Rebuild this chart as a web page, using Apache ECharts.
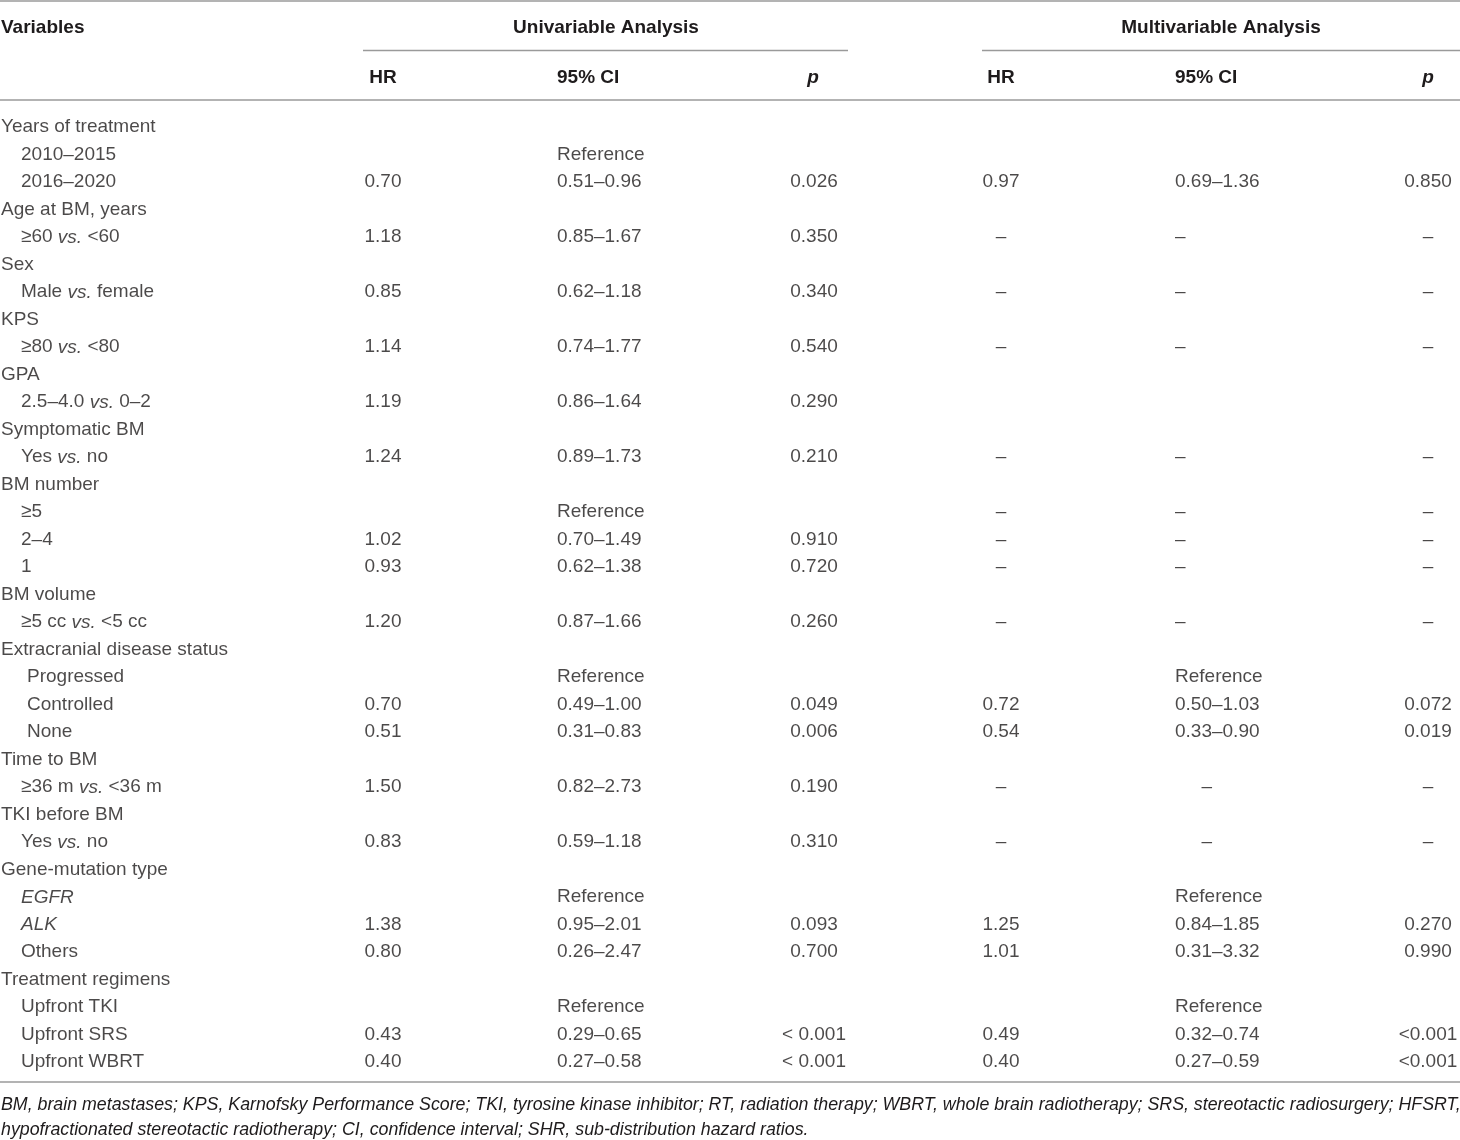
<!DOCTYPE html>
<html>
<head>
<meta charset="utf-8">
<title>Cox regression table</title>
<script src="https://cdn.jsdelivr.net/npm/echarts@6.0.0/dist/echarts.min.js"></script>
<style>
  html, body { margin: 0; padding: 0; background: #fff; }
  #container { width: 1460px; height: 1140px; }
</style>
</head>
<body>
<div id="container"></div>
<script>
// row labels, {i|...} marks italic parts
const variables = [
    'Years of treatment', '2010–2015', '2016–2020',
    'Age at BM, years', '≥60 {i|vs.} <60',
    'Sex', 'Male {i|vs.} female',
    'KPS', '≥80 {i|vs.} <80',
    'GPA', '2.5–4.0 {i|vs.} 0–2',
    'Symptomatic BM', 'Yes {i|vs.} no',
    'BM number', '≥5', '2–4', '1',
    'BM volume', '≥5 cc {i|vs.} <5 cc',
    'Extracranial disease status', 'Progressed', 'Controlled', 'None',
    'Time to BM', '≥36 m {i|vs.} <36 m',
    'TKI before BM', 'Yes {i|vs.} no',
    'Gene-mutation type', '{i|EGFR}', '{i|ALK}', 'Others',
    'Treatment regimens', 'Upfront TKI', 'Upfront SRS', 'Upfront WBRT'
];
const indent = [0,1,1, 0,1, 0,1, 0,1, 0,1, 0,1, 0,1,1,1, 0,1, 0,2,2,2, 0,1, 0,1, 0,1,1,1, 0,1,1,1];

const uniHR = ['', '', '0.70', '', '1.18', '', '0.85', '', '1.14', '', '1.19', '', '1.24',
    '', '', '1.02', '0.93', '', '1.20', '', '', '0.70', '0.51', '', '1.50', '', '0.83',
    '', '', '1.38', '0.80', '', '', '0.43', '0.40'];
const uniCI = ['', 'Reference', '0.51–0.96', '', '0.85–1.67', '', '0.62–1.18', '', '0.74–1.77', '', '0.86–1.64', '', '0.89–1.73',
    '', 'Reference', '0.70–1.49', '0.62–1.38', '', '0.87–1.66', '', 'Reference', '0.49–1.00', '0.31–0.83', '', '0.82–2.73', '', '0.59–1.18',
    '', 'Reference', '0.95–2.01', '0.26–2.47', '', 'Reference', '0.29–0.65', '0.27–0.58'];
const uniP = ['', '', '0.026', '', '0.350', '', '0.340', '', '0.540', '', '0.290', '', '0.210',
    '', '', '0.910', '0.720', '', '0.260', '', '', '0.049', '0.006', '', '0.190', '', '0.310',
    '', '', '0.093', '0.700', '', '', '< 0.001', '< 0.001'];

const multiHR = ['', '', '0.97', '', '–', '', '–', '', '–', '', '', '', '–',
    '', '–', '–', '–', '', '–', '', '', '0.72', '0.54', '', '–', '', '–',
    '', '', '1.25', '1.01', '', '', '0.49', '0.40'];
const multiCI = ['', '', '0.69–1.36', '', '–', '', '–', '', '–', '', '', '', '–',
    '', '–', '–', '–', '', '–', '', 'Reference', '0.50–1.03', '0.33–0.90', '', '     –', '', '     –',
    '', 'Reference', '0.84–1.85', '0.31–3.32', '', 'Reference', '0.32–0.74', '0.27–0.59'];
const multiP = ['', '', '0.850', '', '–', '', '–', '', '–', '', '', '', '–',
    '', '–', '–', '–', '', '–', '', '', '0.072', '0.019', '', '–', '', '–',
    '', '', '0.270', '0.990', '', '', '<0.001', '<0.001'];

const footnote = [
    'BM, brain metastases; KPS, Karnofsky Performance Score; TKI, tyrosine kinase inhibitor; RT, radiation therapy; WBRT, whole brain radiotherapy; SRS, stereotactic radiosurgery; HFSRT,',
    'hypofractionated stereotactic radiotherapy; CI, confidence interval; SHR, sub-distribution hazard ratios.'
];

// layout
const FONT = '"Liberation Sans", Arial, sans-serif';
const INK = '#1e1b1c';
const RULE = '#9a9a9a';
const indentX = [1, 21, 27];

function textColumn(values, xFor, align) {
    const data = [];
    values.forEach(function (v, i) {
        if (v === '') return;
        data.push({ name: v, value: [xFor(i), i] });
    });
    return {
        type: 'scatter',
        symbolSize: 0,
        silent: true,
        data: data,
        label: {
            show: true,
            position: align === 'left' ? 'right' : 'inside',
            distance: 0,
            align: align,
            verticalAlign: 'middle',
            color: INK,
            fontFamily: FONT,
            fontSize: 19,
            lineHeight: 22,
            formatter: function (p) { return p.name; },
            rich: {
                i: {
                    fontStyle: 'italic', color: INK, fontFamily: FONT,
                    fontSize: 19, lineHeight: 22, verticalAlign: 'middle'
                }
            }
        }
    };
}

function headerText(text, x, y, align, italic) {
    return {
        type: 'text',
        silent: true,
        style: {
            text: text, x: x, y: y,
            textAlign: align, textVerticalAlign: 'middle',
            fill: INK,
            font: (italic ? 'italic ' : '') + 'bold 19px ' + FONT
        }
    };
}

function footText(text, y) {
    return {
        type: 'text', silent: true,
        style: {
            text: text, x: 1, y: y,
            textAlign: 'left', textVerticalAlign: 'middle',
            fill: INK, font: 'italic 17.8px ' + FONT
        }
    };
}

function rule(x1, x2, y) {
    return {
        type: 'line', silent: true,
        shape: { x1: x1, y1: y, x2: x2, y2: y },
        style: { stroke: RULE, lineWidth: 1.5 }
    };
}

const myChart = echarts.init(document.getElementById('container'));
const option = {
    animation: false,
    backgroundColor: '#fff',
    grid: { left: 0, right: 0, top: 113.5, bottom: 64 },
    xAxis: { type: 'value', min: 0, max: 1460, show: false },
    yAxis: {
        type: 'category',
        inverse: true,
        show: false,
        data: variables.map(function (v, i) { return i; })
    },
    graphic: [
        rule(0, 1460, 1),
        rule(363, 848, 50.5),
        rule(982, 1460, 50.5),
        rule(0, 1460, 100),
        rule(0, 1460, 1082),
        headerText('Variables', 1, 28, 'left'),
        headerText('Univariable Analysis', 606, 28, 'center'),
        headerText('Multivariable Analysis', 1221, 28, 'center'),
        headerText('HR', 383, 78, 'center'),
        headerText('95% CI', 557, 78, 'left'),
        headerText('p', 813, 78, 'center', true),
        headerText('HR', 1001, 78, 'center'),
        headerText('95% CI', 1175, 78, 'left'),
        headerText('p', 1428, 78, 'center', true),
        footText(footnote[0], 1105),
        footText(footnote[1], 1130)
    ],
    series: [
        textColumn(variables, function (i) { return indentX[indent[i]]; }, 'left'),
        textColumn(uniHR, function () { return 383; }, 'center'),
        textColumn(uniCI, function () { return 557; }, 'left'),
        textColumn(uniP, function () { return 814; }, 'center'),
        textColumn(multiHR, function () { return 1001; }, 'center'),
        textColumn(multiCI, function () { return 1175; }, 'left'),
        textColumn(multiP, function () { return 1428; }, 'center')
    ]
};
myChart.setOption(option);
</script>
</body>
</html>
